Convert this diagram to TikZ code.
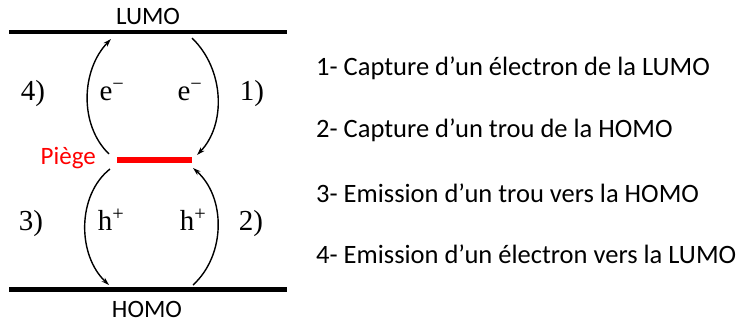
\documentclass[tikz,border=0pt]{standalone}
\usepackage{fontspec}
\setmainfont{Carlito}
\newfontfamily\tms{Liberation Serif}
\usetikzlibrary{arrows.meta}
\begin{document}
\begin{tikzpicture}[x=1pt,y=-1pt,
  level/.style={line width=4.5pt},
  trap/.style={line width=6pt,red},
  trans/.style={line width=1.4pt,-{Stealth[length=8pt,width=5pt]}},
  lab/.style={font=\fontsize{25}{28}\selectfont,anchor=base,inner sep=0pt},
  tlab/.style={font=\tms\fontsize{29}{32}\selectfont,anchor=base,inner sep=0pt},
  item/.style={font=\fontsize{26.5}{30}\selectfont,anchor=base west,inner sep=0pt}]
\useasboundingbox (0,0) rectangle (739,324);
% levels
\coordinate (L1) at (9,32); \coordinate (L2) at (287,32);
\coordinate (H1) at (9,289.5); \coordinate (H2) at (287,289.5);
\coordinate (T1) at (117,160); \coordinate (T2) at (192,160);
\draw[level] (L1) -- (L2);
\draw[level] (H1) -- (H2);
\draw[trap] (T1) -- (T2);
\node[lab] (lumo) at (148,24) {LUMO};
\node[lab] (homo) at (147,317) {HOMO};
\node[lab,text=red,anchor=base east] (piege) at (96,164) {Piège};
% arrow endpoints
\coordinate (a4s) at (109,154); \coordinate (a4e) at (111,39);
\coordinate (a1s) at (192,38);  \coordinate (a1e) at (197,155);
\coordinate (a3s) at (110,169); \coordinate (a3e) at (109,285);
\coordinate (a2s) at (193,285); \coordinate (a2e) at (193,168);
\draw[trans] (a4s) .. controls (79,125) and (81,70) .. (a4e);
\draw[trans] (a1s) .. controls (225,70) and (226,125) .. (a1e);
\draw[trans] (a3s) .. controls (77,195) and (77,255) .. (a3e);
\draw[trans] (a2s) .. controls (226,255) and (226,197) .. (a2e);
% labels
\node[tlab] (n4) at (33,100) {4)};
\node[tlab] (e1) at (112,100) {e\textsuperscript{\char"2212}};
\node[tlab] (e2) at (190,100) {e\textsuperscript{\char"2212}};
\node[tlab] (n1) at (252,100) {1)};
\node[tlab] (n3) at (31,230) {3)};
\node[tlab] (h1) at (111,230) {h\textsuperscript{+}};
\node[tlab] (h2) at (193,230) {h\textsuperscript{+}};
\node[tlab] (n2) at (251,230) {2)};
% list
\node[item] (i1) at (316,75) {1- Capture d’un électron de la LUMO};
\node[item] (i2) at (316,137) {2- Capture d’un trou de la HOMO};
\node[item] (i3) at (316,202) {3- Emission d’un trou vers la HOMO};
\node[item] (i4) at (316,263) {4- Emission d’un électron vers la LUMO};
\end{tikzpicture}
\end{document}
